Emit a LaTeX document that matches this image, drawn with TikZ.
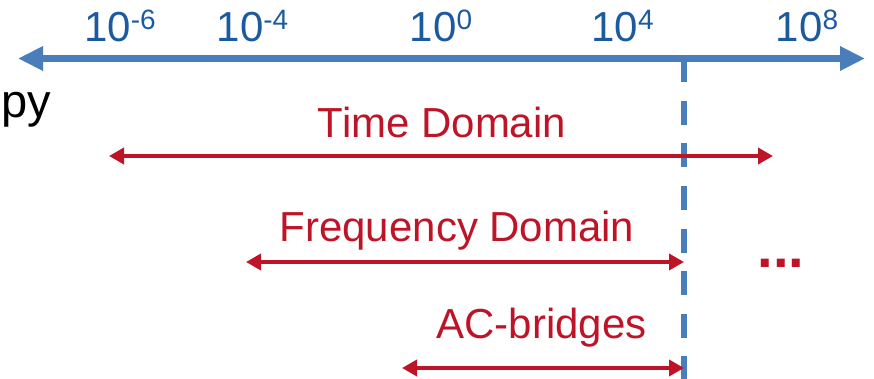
\documentclass[tikz,border=0pt]{standalone}
\usepackage{fontspec}
\setmainfont{Liberation Sans}
\usetikzlibrary{arrows.meta}
\definecolor{axisblue}{RGB}{74,126,187}
\definecolor{labelblue}{RGB}{28,90,160}
\definecolor{rangered}{RGB}{190,20,40}
\newcommand\expo[1]{\raisebox{12pt}{\fontsize{28}{28}\selectfont #1}}
\begin{document}
\begin{tikzpicture}[x=1pt,y=-1pt]
        \tikzstyle{every node}=[inner sep=0pt, font=\fontsize{42}{50}\selectfont]
        \tikzstyle{ticklabel}=[anchor=base, text=labelblue]
        \tikzstyle{methodlabel}=[anchor=base, text=rangered]
        \tikzstyle{spanarrow}=[draw=rangered, line width=3.6pt, {Triangle[length=15pt,width=16pt]}-{Triangle[length=15pt,width=16pt]}]
        \useasboundingbox (0,0) rectangle (874,379);
        % frequency axis
        \coordinate (ax-l) at (18,58.5);
        \coordinate (ax-r) at (865,58.5);
        \coordinate (ax-cut) at (684,58.5);
        \coordinate (cut-end) at (684,379);
        \draw[axisblue, line width=6pt, dash pattern=on 24pt off 18.5pt] (ax-cut) -- (cut-end);
        \draw[axisblue, line width=7pt, {Triangle[length=25pt,width=23pt]}-{Triangle[length=25pt,width=23pt]}] (ax-l) -- (ax-r);
        \node[ticklabel] (e6) at (120,42) {10\expo{-6}};
        \node[ticklabel] (e4) at (252.5,42) {10\expo{-4}};
        \node[ticklabel] (e0) at (441,42) {10\expo{0}};
        \node[ticklabel] (p4) at (622.5,42) {10\expo{4}};
        \node[ticklabel] (p8) at (807,42) {10\expo{8}};
        \node[anchor=base east, font=\fontsize{47}{56}\selectfont] (title) at (51,118) {py};
        % methods
        \node[methodlabel] (td) at (442,138) {Time Domain};
        \coordinate (td-l) at (109,156);
        \coordinate (td-r) at (773,156);
        \draw[spanarrow] (td-l) -- (td-r);
        \node[methodlabel] (fd) at (457,241) {Frequency Domain};
        \coordinate (fd-l) at (246,262);
        \coordinate (fd-r) at (684,262);
        \draw[spanarrow] (fd-l) -- (fd-r);
        \node[methodlabel] (ac) at (541.5,338) {AC-bridges};
        \coordinate (ac-l) at (402,368);
        \coordinate (ac-r) at (684,368);
        \draw[spanarrow] (ac-l) -- (ac-r);
        \node[methodlabel, font=\bfseries\fontsize{56}{60}\selectfont] (more) at (781,267) {...};
    \end{tikzpicture}
\end{document}
